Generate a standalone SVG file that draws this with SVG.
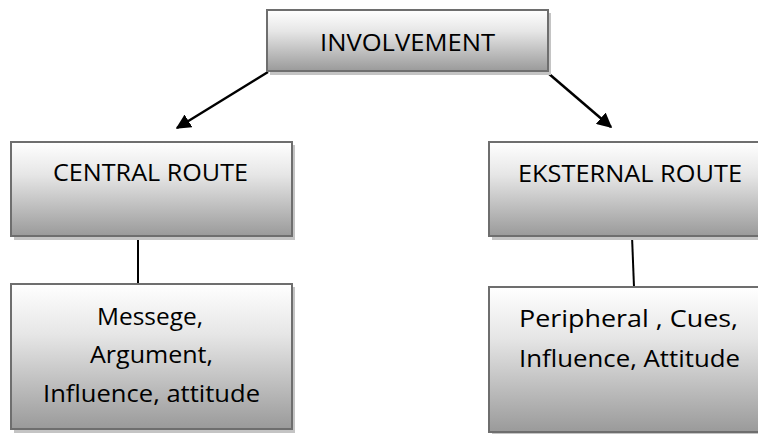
<svg xmlns="http://www.w3.org/2000/svg" width="758" height="434" viewBox="0 0 758 434">
<defs>
<linearGradient id="g" x1="0" y1="0" x2="0" y2="1">
<stop offset="0" stop-color="#ffffff"/>
<stop offset="0.35" stop-color="#e6e6e6"/>
<stop offset="1" stop-color="#9a9a9a"/>
</linearGradient>
<marker id="ah" viewBox="0 0 10 10" refX="9" refY="5" markerWidth="6" markerHeight="6" markerUnits="strokeWidth" orient="auto">
<path d="M0,0 L10,5 L0,10 z" fill="#000"/>
</marker>
</defs>
<style>
.sh{fill:#c4c4c4;}
.bx{fill:url(#g);stroke:#6e6e6e;stroke-width:2;}
.t{font-family:"Open Sans","Liberation Sans",sans-serif;font-size:23.5px;fill:#000;text-anchor:middle;}
.c{stroke:#000;stroke-width:2;fill:none;}
.a{stroke:#000;stroke-width:2.5;fill:none;marker-end:url(#ah);}
</style>
<rect width="758" height="434" fill="#fff"/>
<g id="connectors">
<line class="a" x1="268" y1="72" x2="177" y2="128"/>
<line class="a" x1="548" y1="73" x2="611" y2="127"/>
<line class="c" x1="138" y1="236" x2="138" y2="284"/>
<line class="c" x1="632" y1="236" x2="634" y2="287"/>
</g>
<g id="involvement">
<rect class="sh" x="270" y="13" width="281" height="62"/>
<rect class="bx" x="267" y="10" width="281" height="61"/>
<text class="t" x="407.5" y="51" textLength="175" lengthAdjust="spacingAndGlyphs">INVOLVEMENT</text>
</g>
<g id="central">
<rect class="sh" x="14" y="145" width="281" height="95"/>
<rect class="bx" x="11" y="142" width="281" height="94"/>
<text class="t" x="150.5" y="181" textLength="195" lengthAdjust="spacingAndGlyphs">CENTRAL ROUTE</text>
</g>
<g id="eksternal">
<rect class="sh" x="492" y="145" width="280" height="95"/>
<rect class="bx" x="489" y="142" width="280" height="94"/>
<text class="t" x="630" y="182" textLength="224" lengthAdjust="spacingAndGlyphs">EKSTERNAL ROUTE</text>
</g>
<g id="message">
<rect class="sh" x="14" y="287" width="281" height="146"/>
<rect class="bx" x="11" y="284" width="281" height="145"/>
<text class="t" x="150" y="325" textLength="106" lengthAdjust="spacingAndGlyphs">Messege,</text>
<text class="t" x="151.5" y="363" textLength="123" lengthAdjust="spacingAndGlyphs">Argument,</text>
<text class="t" x="151.5" y="402" textLength="217" lengthAdjust="spacingAndGlyphs">Influence, attitude</text>
</g>
<g id="peripheral">
<rect class="sh" x="492" y="290" width="280" height="146"/>
<rect class="bx" x="489" y="287" width="280" height="145"/>
<text class="t" x="628.5" y="327" textLength="219" lengthAdjust="spacingAndGlyphs">Peripheral , Cues,</text>
<text class="t" x="629.5" y="367" textLength="221" lengthAdjust="spacingAndGlyphs">Influence, Attitude</text>
</g>
</svg>
